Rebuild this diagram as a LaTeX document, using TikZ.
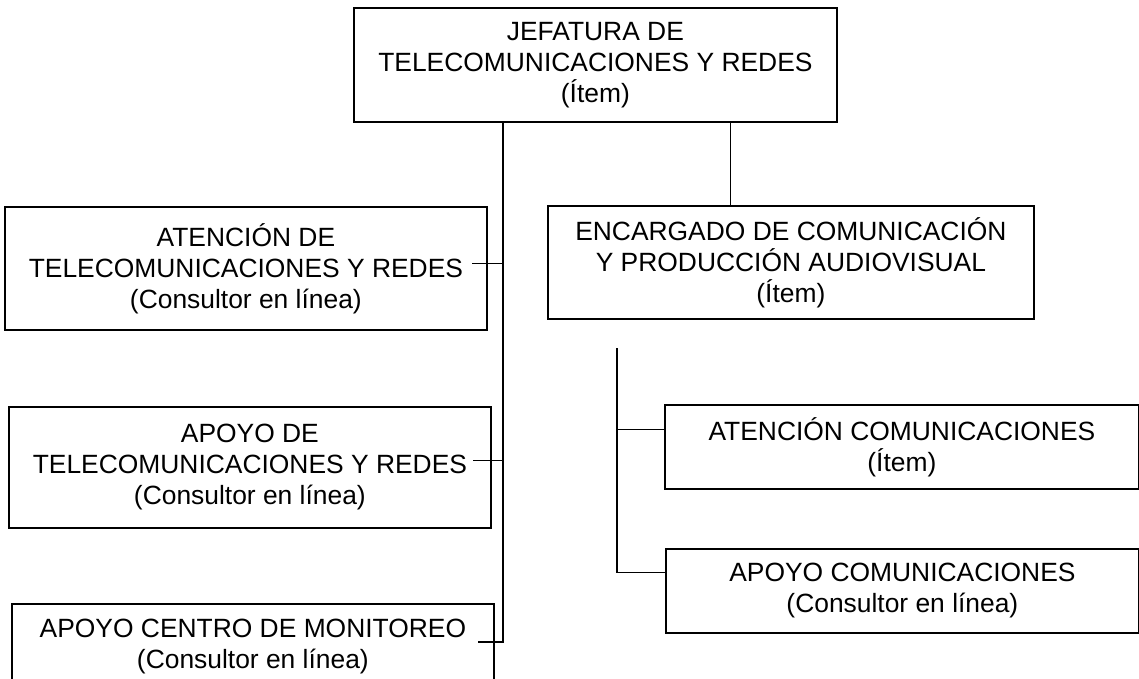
\documentclass[tikz,border=0pt]{standalone}
\usepackage{fontspec}
\setmainfont{Liberation Sans}

\begin{document}
\begin{tikzpicture}[x=0.5pt,y=-0.5pt,
    cargo/.style={draw,line width=0.9pt,align=center,anchor=north west,inner sep=0pt,
                  font=\fontsize{13.2}{15.5}\selectfont},
    enlace/.style={line width=0.55pt}]
  \useasboundingbox (0,0) rectangle (1139,679);

  \node[cargo,minimum width=241.5pt,minimum height=57pt]   (jefe)  at (353,7)   {JEFATURA DE\\TELECOMUNICACIONES Y REDES\\(Ítem)};
  \node[cargo,minimum width=241pt,minimum height=61.5pt]   (atel)  at (4,206)   {ATENCIÓN DE\\TELECOMUNICACIONES Y REDES\\(Consultor en línea)};
  \node[cargo,minimum width=241pt,minimum height=60.5pt]   (aptel) at (8,406)   {APOYO DE\\TELECOMUNICACIONES Y REDES\\(Consultor en línea)};
  \node[cargo,minimum width=241pt,minimum height=43pt]     (mon)   at (11,603)  {APOYO CENTRO DE MONITOREO\\(Consultor en línea)};
  \node[cargo,minimum width=243pt,minimum height=56.5pt]   (enc)   at (547,205) {ENCARGADO DE COMUNICACIÓN\\Y PRODUCCIÓN AUDIOVISUAL\\(Ítem)};
  \node[cargo,minimum width=237pt,minimum height=42pt]     (acom)  at (664,404) {ATENCIÓN COMUNICACIONES\\(Ítem)};
  \node[cargo,minimum width=236.5pt,minimum height=42pt]   (apcom) at (665,548) {APOYO COMUNICACIONES\\(Consultor en línea)};

  \coordinate (tronco) at (503,642);
  \coordinate (baja)   at (730.5,205);
  \coordinate (rama)   at (617,348);

  \draw[enlace] (jefe.south -| tronco) -- (tronco) -- +(-25,0);
  \draw[enlace] (atel.east -| tronco)  ++(0,-5) -- +(-31,0);
  \draw[enlace] (aptel.east -| tronco) ++(0,-7) -- +(-30,0);
  \draw[enlace] (baja) -- (baja |- jefe.south);
  \draw[enlace] (rama) |- ([yshift=9pt]apcom.west);
  \draw[enlace] (acom.west -| rama) ++(0,-17) -- +(47,0);
\end{tikzpicture}
\end{document}
